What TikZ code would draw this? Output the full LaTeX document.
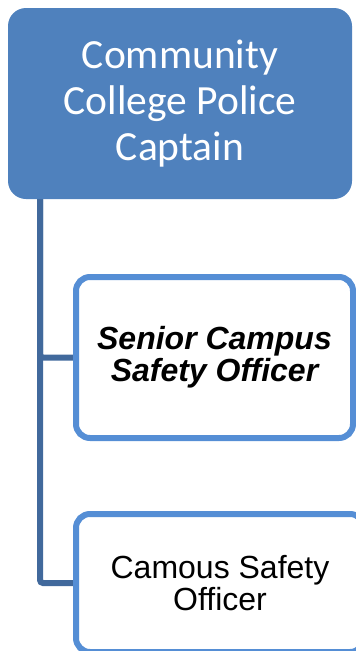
\documentclass[tikz,border=0pt]{standalone}
\usepackage{fontspec}
\setmainfont{Liberation Sans}
\newfontfamily\calibri{Carlito}
\definecolor{headblue}{HTML}{4F81BD}
\definecolor{boxline}{HTML}{558ED5}
\definecolor{linkblue}{HTML}{41699C}
\pgfdeclarelayer{back}
\pgfsetlayers{back,main}

\begin{document}
\begin{tikzpicture}[x=1pt,y=-1pt,
    head/.style={fill=headblue,rounded corners=18pt,minimum width=344pt,minimum height=191pt,
      text=white,align=center,inner sep=0pt,font=\calibri\fontsize{41.5}{46}\selectfont},
    staff/.style={draw=boxline,line width=6pt,fill=white,rounded corners=14pt,
      align=center,inner sep=0pt,font=\fontsize{32}{32}\selectfont},
    link/.style={draw=linkblue,line width=6pt,rounded corners=3pt}]
    \useasboundingbox (0,0) rectangle (356,651);
    \clip (0,0) rectangle (356,651);

    % head of the chart
    \node[head] (captain) at (180,103.5) {Community\\College Police\\Captain};
    \coordinate (trunk) at (40,199);

    % the two officers
    \node[staff,minimum width=277pt,minimum height=161pt] (senior) at (214.5,357.5)
      {\bfseries\itshape Senior Campus\\\bfseries\itshape Safety Officer};
    \node[staff,minimum width=288pt,minimum height=138pt] (officer) at (220,583)
      {Camous Safety\\Officer};

    % connectors behind the boxes
    \begin{pgfonlayer}{back}
      \draw[link] (trunk) |- (officer.west);
      \draw[link] (trunk) |- (senior.west);
    \end{pgfonlayer}
\end{tikzpicture}
\end{document}
